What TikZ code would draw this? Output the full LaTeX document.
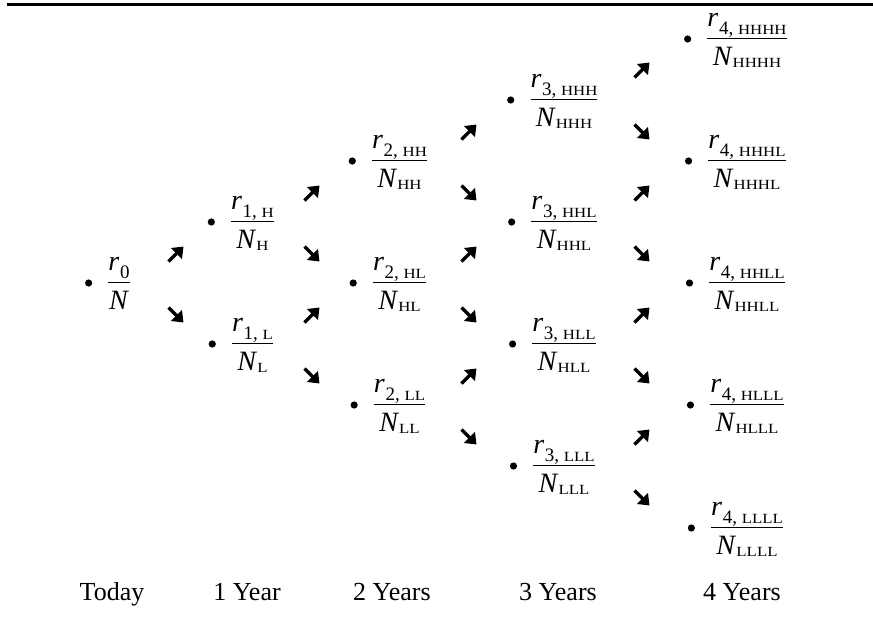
\documentclass[tikz,border=0pt]{standalone}
\usepackage{amsmath}
\usepackage{graphicx}
\usepackage{fontspec}
\setmainfont{Liberation Serif}
\usetikzlibrary{arrows.meta}
\newcommand\scl[1]{\scalebox{1.2}[1]{\fontsize{7}{8}\selectfont #1}}
\newcommand\numr[1]{\mbox{\textit{r}\hspace{0.3pt}\raisebox{-3.8pt}[0pt][0pt]{\fontsize{9.5}{10}\selectfont #1}}}
\newcommand\denm[1]{\mbox{\textit{N}\raisebox{-1pt}{\scl{#1}}}}
\newcommand\tnode[5]{%
  \node[fracnode] (#1) at (#2,#3+7) {$\dfrac{\numr{#4}}{\denm{#5}}$};
  \fill ([xshift=-8.5pt,yshift=3.5pt]#1.base west) circle (1.8pt);
}
\newcommand\uparr[2]{\draw[arr] (#1-7.5,#2+7.5) -- (#1+7.5,#2-7.5);}
\newcommand\dnarr[2]{\draw[arr] (#1-7.5,#2-7.5) -- (#1+7.5,#2+7.5);}
\begin{document}
\begin{tikzpicture}[x=0.5pt,y=-0.5pt,
  fracnode/.style={inner sep=0pt,anchor=base,font=\fontsize{14}{16}\selectfont},
  lbl/.style={inner sep=0pt,anchor=base,font=\fontsize{13}{15}\selectfont},
  arr/.style={line width=1.7pt,-{Triangle[length=5pt,width=7.5pt]}}]
\useasboundingbox (0,0) rectangle (873,633);
\draw[line width=1.3pt] (7,4.5) -- (873,4.5);
% column 0
\tnode{n0}{119}{283}{0}{}
% column 1
\tnode{nH}{252.5}{222}{1, \scl{H}}{H}
\tnode{nL}{252.5}{344}{1, \scl{L}}{L}
% column 2
\tnode{nHH}{399.5}{161}{2, \scl{HH}}{HH}
\tnode{nHL}{399.5}{283}{2, \scl{HL}}{HL}
\tnode{nLL}{399.5}{405}{2, \scl{LL}}{LL}
% column 3
\tnode{nHHH}{564}{100}{3, \scl{HHH}}{HHH}
\tnode{nHHL}{564}{222}{3, \scl{HHL}}{HHL}
\tnode{nHLL}{564}{344}{3, \scl{HLL}}{HLL}
\tnode{nLLL}{564}{466}{3, \scl{LLL}}{LLL}
% column 4
\tnode{nHHHH}{747}{39}{4, \scl{HHHH}}{HHHH}
\tnode{nHHHL}{747}{161}{4, \scl{HHHL}}{HHHL}
\tnode{nHHLL}{747}{283}{4, \scl{HHLL}}{HHLL}
\tnode{nHLLL}{747}{405}{4, \scl{HLLL}}{HLLL}
\tnode{nLLLL}{747}{528}{4, \scl{LLLL}}{LLLL}
% arrows 0-1
\uparr{176}{254}
\dnarr{176}{315}
% arrows 1-2
\uparr{312}{193}
\dnarr{312}{254}
\uparr{312}{315}
\dnarr{312}{376}
% arrows 2-3
\uparr{469}{132}
\dnarr{469}{193}
\uparr{469}{254}
\dnarr{469}{315}
\uparr{469}{376}
\dnarr{469}{437}
% arrows 3-4
\uparr{642}{70}
\dnarr{642}{132}
\uparr{642}{193}
\dnarr{642}{254}
\uparr{642}{315}
\dnarr{642}{376}
\uparr{642}{437}
\dnarr{642}{498}
% labels
\node[lbl] (t0) at (112,600) {Today};
\node[lbl] (t1) at (247,600) {1 Year};
\node[lbl] (t2) at (392,600) {2 Years};
\node[lbl] (t3) at (558,600) {3 Years};
\node[lbl] (t4) at (742,600) {4 Years};
\end{tikzpicture}
\end{document}
